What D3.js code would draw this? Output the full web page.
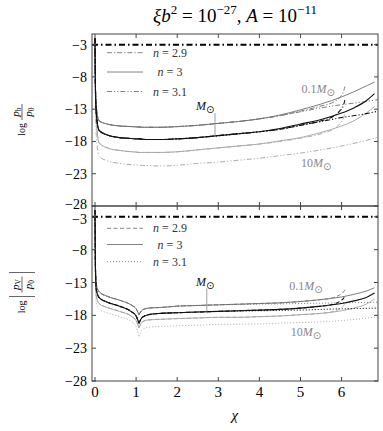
<!DOCTYPE html>
<html>
<head>
<meta charset="utf-8">
<script src="https://cdn.jsdelivr.net/npm/d3@7"></script>
<style>
  body { margin: 0; background: #fff; }
  svg { display: block; font-family: "Liberation Serif", "DejaVu Serif", serif; }
</style>
</head>
<body>
<svg id="chart" width="383" height="431"></svg>
<script>
// chi grids: n = 2.9 runs stop early, n = 3.1 runs go past the frame
const chi29 = [0, 0.01, 0.03, 0.1, 0.3, 0.6, 0.9, 1.0, 1.07, 1.15, 1.3, 1.6, 2.0, 2.5, 3.0, 3.5, 4.0, 4.5, 5.0, 5.5, 5.8, 5.95, 6.05, 6.08];
const chi30 = [0, 0.01, 0.03, 0.1, 0.3, 0.6, 0.9, 1.0, 1.07, 1.15, 1.3, 1.6, 2.0, 2.5, 3.0, 3.5, 4.0, 4.5, 5.0, 5.5, 6.0, 6.3, 6.6, 6.8];
const chi31 = [0, 0.01, 0.03, 0.1, 0.3, 0.6, 0.9, 1.0, 1.07, 1.15, 1.3, 1.6, 2.0, 2.5, 3.0, 3.5, 4.0, 4.5, 5.0, 5.5, 6.0, 6.5, 6.9];

// top panel: log pb/p0
const pb01_n29 = [-2, -9, -12.5, -14.8, -15.3, -15.6, -15.7, -15.75, -15.75, -15.8, -15.8, -15.8, -15.7, -15.5, -15.2, -14.9, -14.5, -14.0, -13.3, -12.5, -11.9, -11.2, -10.2, -9.5];
const pb01_n30 = [-2, -9, -12.5, -14.8, -15.3, -15.6, -15.7, -15.75, -15.75, -15.8, -15.8, -15.8, -15.7, -15.5, -15.2, -14.9, -14.5, -13.9, -13.1, -12.2, -11.1, -10.3, -9.4, -8.8];
const pb01_n31 = [-2, -9, -12.5, -14.8, -15.3, -15.6, -15.7, -15.75, -15.75, -15.8, -15.8, -15.8, -15.7, -15.5, -15.2, -14.9, -14.5, -14.0, -13.4, -12.8, -12.3, -11.9, -11.5];
const pb1_n29 = [-2, -9.5, -13.5, -16.3, -17.0, -17.4, -17.55, -17.6, -17.6, -17.65, -17.7, -17.7, -17.6, -17.4, -17.1, -16.8, -16.5, -16.1, -15.5, -14.8, -14.1, -13.3, -12.3, -11.6];
const pb1_n30 = [-2, -9.5, -13.5, -16.3, -17.0, -17.4, -17.55, -17.6, -17.6, -17.65, -17.7, -17.7, -17.6, -17.4, -17.1, -16.8, -16.5, -16.0, -15.3, -14.6, -13.6, -12.8, -11.7, -10.6];
const pb1_n31 = [-2, -9.5, -13.5, -16.3, -17.0, -17.4, -17.55, -17.6, -17.6, -17.65, -17.7, -17.7, -17.6, -17.4, -17.1, -16.8, -16.5, -16.1, -15.5, -14.9, -14.3, -13.8, -13.3];
const pb10_n29 = [-2, -10, -14.5, -18.2, -19.0, -19.4, -19.6, -19.65, -19.7, -19.7, -19.7, -19.7, -19.6, -19.3, -19.0, -18.7, -18.4, -18.0, -17.5, -16.8, -16.1, -15.3, -14.3, -13.7];
const pb10_n30 = [-2, -10, -14.5, -18.2, -19.0, -19.4, -19.6, -19.65, -19.7, -19.7, -19.7, -19.7, -19.6, -19.3, -19.0, -18.7, -18.4, -17.9, -17.4, -16.6, -15.6, -14.8, -13.6, -12.6];
const pb10_n31 = [-2, -11, -17, -20.3, -21.0, -21.4, -21.6, -21.65, -21.7, -21.7, -21.75, -21.8, -21.7, -21.4, -21.2, -20.9, -20.6, -20.2, -19.8, -19.3, -18.7, -18.0, -17.3];

// bottom panel: log |pV/p0|
const pv01_n29 = [-2, -10, -13.2, -14.4, -15.1, -15.7, -16.5, -17.0, -17.9, -17.2, -16.9, -16.8, -16.6, -16.5, -16.4, -16.3, -16.2, -16.1, -15.9, -15.6, -15.3, -14.9, -14.4, -14.1];
const pv01_n30 = [-2, -10, -13.2, -14.4, -15.1, -15.7, -16.5, -17.0, -17.9, -17.2, -16.9, -16.8, -16.6, -16.5, -16.4, -16.3, -16.2, -16.1, -15.9, -15.6, -15.2, -14.8, -14.3, -13.8];
const pv01_n31 = [-2, -10, -13.2, -14.4, -15.1, -15.7, -16.5, -17.0, -17.9, -17.2, -16.9, -16.8, -16.6, -16.5, -16.4, -16.35, -16.3, -16.25, -16.2, -16.15, -16.1, -16.05, -16.0];
const pv1_n29 = [-2, -10.5, -14, -15.3, -16.0, -16.6, -17.5, -18.1, -19.2, -18.3, -17.9, -17.7, -17.6, -17.5, -17.4, -17.3, -17.2, -17.1, -16.9, -16.6, -16.3, -15.9, -15.4, -15.1];
const pv1_n30 = [-2, -10.5, -14, -15.3, -16.0, -16.6, -17.5, -18.1, -19.2, -18.3, -17.9, -17.7, -17.6, -17.5, -17.4, -17.3, -17.2, -17.1, -16.9, -16.6, -16.2, -15.8, -15.3, -14.6];
const pv1_n31 = [-2, -10.5, -14, -15.3, -16.0, -16.6, -17.5, -18.1, -19.2, -18.3, -17.9, -17.7, -17.6, -17.5, -17.4, -17.35, -17.3, -17.25, -17.2, -17.1, -17.0, -16.95, -16.9];
const pv10_n29 = [-2, -11, -15, -16.2, -16.8, -17.4, -18.2, -18.8, -19.9, -19.0, -18.7, -18.6, -18.5, -18.4, -18.3, -18.3, -18.2, -18.1, -17.9, -17.7, -17.4, -17.0, -16.5, -16.2];
const pv10_n30 = [-2, -11, -15, -16.2, -16.8, -17.4, -18.2, -18.8, -19.9, -19.0, -18.7, -18.6, -18.5, -18.4, -18.3, -18.3, -18.2, -18.1, -17.9, -17.7, -17.3, -16.9, -16.3, -15.5];
const pv10_n31 = [-2, -12, -16, -17.1, -17.6, -18.2, -19.0, -19.7, -21.2, -20.2, -19.8, -19.7, -19.6, -19.5, -19.4, -19.35, -19.3, -19.2, -19.1, -19.0, -18.8, -18.5, -18.2];

const xTicks = [0, 1, 2, 3, 4, 5, 6];
const yTicks = [-3, -8, -13, -18, -23, -28];
const refLevel = -3;          // thick dash-dot line in both panels
const cuspIndex = 8;          // chi = 1.07, sharp dip of pV

const masses = ['10', '0.1', '1'];   // draw order: light gray, gray, black
const nValues = ['2.9', '3', '3.1'];

const svg = d3.select('#chart');
const left = 92, right = 378;
const panels = [
  { key: 'pb', top: 34, bottom: 206, grids: { '2.9': chi29, '3': chi30, '3.1': chi31 },
    data: { '0.1': [pb01_n29, pb01_n30, pb01_n31], '1': [pb1_n29, pb1_n30, pb1_n31], '10': [pb10_n29, pb10_n30, pb10_n31] },
    dash: { '2.9': '5,2,1.2,2', '3': null, '3.1': '5,2,1.2,2,1.2,2' }, split: false },
  { key: 'pv', top: 206, bottom: 381, grids: { '2.9': chi29, '3': chi30, '3.1': chi31 },
    data: { '0.1': [pv01_n29, pv01_n30, pv01_n31], '1': [pv1_n29, pv1_n30, pv1_n31], '10': [pv10_n29, pv10_n30, pv10_n31] },
    dash: { '2.9': '4,2.5', '3': null, '3.1': '1,2' }, split: true }
];

const massColor = { '0.1': '#6e6e6e', '1': '#111', '10': '#a3a3a3' };
const massWidth = { '0.1': 0.9, '1': 1.1, '10': 0.9 };

const x = d3.scaleLinear().domain([-0.073, 6.886]).range([left, right]);

const defs = svg.append('defs');

panels.forEach((p, pi) => {
  const y = d3.scaleLinear().domain([-28, -1.35]).range([p.bottom, p.top]);
  p.y = y;

  defs.append('clipPath').attr('id', 'clip' + pi)
    .append('rect')
      .attr('x', left).attr('y', p.top)
      .attr('width', right - left).attr('height', p.bottom - p.top);

  const g = svg.append('g');
  const plot = g.append('g').attr('clip-path', `url(#clip${pi})`);

  // reference level
  plot.append('line')
    .attr('x1', left).attr('x2', right)
    .attr('y1', y(refLevel)).attr('y2', y(refLevel))
    .attr('stroke', '#000').attr('stroke-width', 2)
    .attr('stroke-dasharray', '6,3,1.5,3');

  const line = d3.line()
    .x(d => x(d[0]))
    .y(d => y(d[1]))
    .curve(d3.curveMonotoneX);

  masses.forEach(m => {
    nValues.forEach((n, ni) => {
      const pts = p.grids[n].map((c, i) => [c, p.data[m][ni][i]]);
      const pieces = p.split ? [pts.slice(0, cuspIndex + 1), pts.slice(cuspIndex)] : [pts];
      pieces.forEach(seg => {
        plot.append('path')
          .attr('d', line(seg))
          .attr('fill', 'none')
          .attr('stroke', massColor[m])
          .attr('stroke-width', massWidth[m])
          .attr('stroke-dasharray', p.dash[n]);
      });
    });
  });

  // frame
  g.append('rect')
    .attr('x', left).attr('y', p.top)
    .attr('width', right - left).attr('height', p.bottom - p.top)
    .attr('fill', 'none').attr('stroke', '#444').attr('stroke-width', 1);

  // inward ticks on all sides
  const tk = 4;
  xTicks.forEach(t => {
    g.append('line').attr('x1', x(t)).attr('x2', x(t)).attr('y1', p.bottom).attr('y2', p.bottom - tk).attr('stroke', '#444');
    g.append('line').attr('x1', x(t)).attr('x2', x(t)).attr('y1', p.top).attr('y2', p.top + tk).attr('stroke', '#444');
  });
  yTicks.forEach(t => {
    g.append('line').attr('x1', left).attr('x2', left + tk).attr('y1', y(t)).attr('y2', y(t)).attr('stroke', '#444');
    g.append('line').attr('x1', right).attr('x2', right - tk).attr('y1', y(t)).attr('y2', y(t)).attr('stroke', '#444');
    // the -28 of the top panel and the -3 below it sit close, nudge them apart
    let nudge = 0;
    if (pi === 0 && t === -28) nudge = -2;
    if (pi === 1 && t === -3) nudge = 2;
    g.append('text')
      .attr('x', left - 5).attr('y', y(t) + 5 + nudge)
      .attr('text-anchor', 'end')
      .attr('font-size', 14)
      .text(d3.format('d')(t));
  });
});

// x tick labels and title under the bottom panel
xTicks.forEach(t => {
  svg.append('text')
    .attr('x', x(t)).attr('y', 397)
    .attr('text-anchor', 'middle')
    .attr('font-size', 15)
    .text(t);
});
svg.append('text')
  .attr('x', x(3.4)).attr('y', 420)
  .attr('text-anchor', 'middle')
  .attr('font-size', 15).attr('font-style', 'italic')
  .text('χ');

// title
const title = svg.append('text')
  .attr('x', (left + right) / 2).attr('y', 22)
  .attr('text-anchor', 'middle')
  .attr('font-size', 19);
title.append('tspan').attr('font-style', 'italic').text('ξb');
title.append('tspan').attr('font-size', 13).attr('dy', -8).text('2');
title.append('tspan').attr('dy', 8).text(' = 10');
title.append('tspan').attr('font-size', 13).attr('dy', -8).text('−27');
title.append('tspan').attr('dy', 8).text(', ');
title.append('tspan').attr('font-style', 'italic').text('A');
title.append('tspan').text(' = 10');
title.append('tspan').attr('font-size', 13).attr('dy', -8).text('−11');

// y axis labels (rotated), a small fraction after "log"
function frac(g, cx, sub) {
  const num = g.append('text').attr('x', cx).attr('y', -3).attr('text-anchor', 'middle').attr('font-size', 11);
  num.append('tspan').attr('font-style', 'italic').text('p');
  num.append('tspan').attr('font-size', 7.5).attr('dy', 2).text(sub);
  const den = g.append('text').attr('x', cx).attr('y', 10).attr('text-anchor', 'middle').attr('font-size', 11);
  den.append('tspan').attr('font-style', 'italic').text('p');
  den.append('tspan').attr('font-size', 7.5).attr('dy', 2).text('0');
  g.append('line').attr('x1', cx - 8).attr('x2', cx + 8).attr('y1', 0).attr('y2', 0)
    .attr('stroke', '#000').attr('stroke-width', 0.6);
}

const yl1 = svg.append('g').attr('transform', `translate(22,${(panels[0].top + panels[0].bottom) / 2}) rotate(-90)`);
yl1.append('text').attr('x', -3).attr('y', 3).attr('text-anchor', 'end').attr('font-size', 10).text('log');
frac(yl1, 8, 'b');

const yl2 = svg.append('g').attr('transform', `translate(22,${(panels[1].top + panels[1].bottom) / 2}) rotate(-90)`);
yl2.append('text').attr('x', -7).attr('y', 3).attr('text-anchor', 'end').attr('font-size', 10).text('log');
frac(yl2, 9, 'V');
[-3, 21].forEach(bx => {
  yl2.append('line').attr('x1', bx).attr('x2', bx).attr('y1', -13).attr('y2', 13)
    .attr('stroke', '#000').attr('stroke-width', 0.6);
});

// legends
const legendRows = [
  { panel: 0, ys: [52.7, 72, 91.5] },
  { panel: 1, ys: [228.3, 244.5, 261.7] }
];
legendRows.forEach(lr => {
  const p = panels[lr.panel];
  nValues.forEach((n, i) => {
    const yy = lr.ys[i];
    svg.append('line')
      .attr('x1', 107).attr('x2', 143).attr('y1', yy).attr('y2', yy)
      .attr('stroke', '#777').attr('stroke-width', 0.9)
      .attr('stroke-dasharray', p.dash[n]);
    const t = svg.append('text')
      .attr('x', 170).attr('y', yy + 4)
      .attr('text-anchor', 'middle')
      .attr('font-size', 12).attr('fill', '#333');
    t.append('tspan').attr('font-style', 'italic').text('n');
    t.append('tspan').text(' = ' + n);
  });
});

// mass annotations
const notes = [
  { panel: 0, pre: '', chi: 2.68, v: -13.2, color: '#111' },
  { panel: 0, pre: '0.1', chi: 5.43, v: -10.5, color: '#888' },
  { panel: 0, pre: '10', chi: 5.38, v: -22.0, color: '#888' },
  { panel: 1, pre: '', chi: 2.68, v: -13.5, color: '#111' },
  { panel: 1, pre: '0.1', chi: 5.13, v: -14.2, color: '#888' },
  { panel: 1, pre: '10', chi: 5.13, v: -21.1, color: '#888' }
];
notes.forEach(nt => {
  const y = panels[nt.panel].y;
  const t = svg.append('text')
    .attr('x', x(nt.chi)).attr('y', y(nt.v))
    .attr('text-anchor', 'middle')
    .attr('font-size', 12).attr('fill', nt.color);
  if (nt.pre) t.append('tspan').text(nt.pre);
  t.append('tspan').attr('font-style', 'italic').text('M');
  t.append('tspan').attr('font-size', 10).attr('dy', 3).attr('font-family', 'DejaVu Sans').text('⊙');
});

// pointer lines from the M⊙ labels down to the solar-mass curve
const pointers = [
  { panel: 0, chi: 2.92, from: -13.6, to: -17.15 },
  { panel: 1, chi: 2.72, from: -13.9, to: -17.45 }
];
pointers.forEach(pt => {
  const y = panels[pt.panel].y;
  svg.append('line')
    .attr('x1', x(pt.chi)).attr('x2', x(pt.chi))
    .attr('y1', y(pt.from)).attr('y2', y(pt.to))
    .attr('stroke', '#777').attr('stroke-width', 0.7);
});
</script>
</body>
</html>
